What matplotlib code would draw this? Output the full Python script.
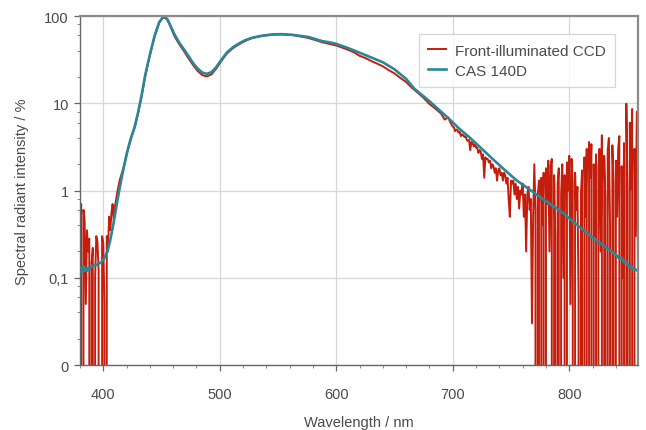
import numpy as np
import matplotlib.pyplot as plt
from matplotlib.ticker import FixedLocator, LogLocator, MultipleLocator, NullFormatter

plt.rcParams['font.family'] = ['Liberation Sans', 'DejaVu Sans']

# CAS 140D reference spectrum (wavelength nm, intensity %)
cas_nm = [380, 381, 382, 383, 384, 385, 386, 387, 388, 390, 392, 394, 396, 398,
          400, 402, 404, 406, 408, 410, 412, 414, 416, 418, 420, 422, 424, 427,
          430, 433, 436, 440, 444, 448, 451, 453, 455, 458, 461, 465, 469, 473,
          477, 481, 485, 489, 493, 497, 501, 506, 511, 516, 522, 528, 536, 545,
          553, 562, 570, 576, 582, 588, 594, 600, 610, 620, 630, 640, 650, 660,
          667, 675, 682, 690, 697, 705, 715, 725, 735, 745, 755, 765, 775, 785,
          795, 800, 810, 820, 830, 835, 840, 843, 845, 847, 849, 851, 853, 855,
          857, 859]
cas_val = [0.11, 0.13, 0.115, 0.135, 0.12, 0.13, 0.12, 0.13, 0.125, 0.135, 0.14,
           0.14, 0.145, 0.15, 0.16, 0.18, 0.21, 0.27, 0.37, 0.52, 0.75, 1.05,
           1.45, 1.95, 2.6, 3.3, 4.1, 5.4, 8.0, 12.5, 21, 36, 59, 85, 96, 97, 92,
           76, 62, 50, 42, 35, 29, 25, 22.5, 21.7, 22.8, 26, 31, 38, 43.5, 48, 53,
           56.5, 59.5, 61.5, 62, 61, 59, 57.5, 54.5, 51.5, 50, 48, 43, 38, 33.5,
           29.5, 24.5, 19, 14.7, 12, 10, 8, 6.6, 5.2, 4.0, 3.0, 2.25, 1.7, 1.3,
           1.05, 0.84, 0.68, 0.55, 0.48, 0.37, 0.29, 0.23, 0.205, 0.185, 0.165,
           0.17, 0.15, 0.152, 0.135, 0.138, 0.125, 0.124, 0.12]

# front-illuminated CCD: noisy blue end
ccd_nm_blue = list(range(380, 411)) + [412, 414, 416]
ccd_val_blue = [0.12, 0.7, 0, 0.6, 0.45, 0.05, 0.35, 0.2, 0.28, 0, 0.15, 0.22, 0,
                0.1, 0.3, 0.26, 0.12, 0, 0, 0.3, 0.25, 0.05, 0, 0.3, 0.2, 0.5,
                0.35, 0.55, 0.7, 0.45, 0.65, 0.95, 1.3, 1.6]

# smooth middle part
ccd_nm_mid = [418, 421, 424, 427, 430, 433, 436, 440, 444, 448, 451, 453, 455, 458,
              461, 465, 469, 473, 477, 481, 485, 489, 493, 497, 501, 506, 511, 516,
              522, 528, 536, 545, 553, 562, 570, 576, 582, 588, 594, 600, 605, 610,
              615, 620, 625, 630, 635, 640, 645, 650, 655, 660, 665, 670, 675, 680,
              685, 690, 693, 696, 698]
ccd_val_mid = [1.95, 2.9, 4.0, 5.3, 7.8, 12.3, 20.5, 35.5, 58, 84, 95, 96, 91, 74,
               59, 48, 40, 33, 27.5, 23.5, 21, 20.3, 21.5, 25, 30, 37, 42.5, 47,
               52, 56, 59, 61, 61.5, 60.5, 58, 56, 53, 50, 48, 46, 43.5, 41, 38.5,
               35, 33, 30.5, 28.5, 26.5, 24, 22, 19.5, 17.5, 15, 13.2, 11.5, 9.8,
               8.7, 7.6, 6.5, 6.9, 6.0]

# noisy red end, 1 nm steps
ccd_nm_red = list(range(700, 860))
ccd_val_red = [5.4, 5.3, 4.8, 5.0, 4.9, 4.6, 4.7, 4.2, 4.4, 4.3,
               4.1, 4.2, 3.8, 3.7, 3.8, 2.9, 3.6, 3.5, 3.2, 3.4,
               3.1, 3.1, 2.7, 2.9, 2.8, 2.3, 2.6, 1.4, 2.4, 2.3,
               2.3, 2.1, 2.2, 1.8, 2.0, 1.9, 1.6, 1.8, 1.3, 1.7,
               1.8, 1.5, 1.6, 1.3, 1.6, 1.5, 1.2, 1.4, 0.8, 0.5,
               1.3, 1.2, 1.3, 0.9, 1.2, 0.8, 1.1, 0.62, 1.0, 0.9,
               1.2, 0.5, 0.9, 0.2, 0.9, 1.1, 0.6, 0.8, 0.03, 0.5,
               2.0, 0.6, 0, 0.9, 1.3, 0, 1.4, 0.4, 1.6, 0,
               1.8, 0.7, 2.2, 0.2, 1.9, 2.3, 0, 1.5, 0.3, 0,
               1.2, 1.8, 0, 0.9, 2.0, 0.1, 1.5, 0, 2.1, 1.0,
               2.5, 0.05, 2.3, 1.2, 0, 1.6, 0.6, 1.1, 0.06, 0,
               0.9, 1.7, 0, 2.4, 0.5, 3.0, 0, 3.6, 1.4, 3.4,
               0, 2.0, 0.3, 2.6, 0, 1.8, 3.0, 0.2, 4.3, 0,
               2.5, 0.8, 0, 2.9, 4.0, 0.4, 0, 3.3, 1.2, 0,
               2.2, 0.5, 3.0, 4.2, 0, 1.9, 0.1, 3.5, 0, 9.9,
               1.0, 0, 6.0, 1.05, 8.6, 0, 3.0, 0.3, 8.0, 0.15]

ccd_nm = ccd_nm_blue + ccd_nm_mid + ccd_nm_red
ccd_val = ccd_val_blue + ccd_val_mid + ccd_val_red

ytick_vals = [0.01, 0.1, 1, 10, 100]
ytick_labels = ['0', '0,1', '1', '10', '100']
xtick_vals = [400, 500, 600, 700, 800]

red = '#c41d0c'
teal = '#2a8797'
txt = '#4a4a4a'

fig = plt.figure(figsize=(6.46, 4.31), dpi=100)
ax = fig.add_axes([0.1238, 0.1508, 0.8638, 0.8097])

ax.plot(ccd_nm, ccd_val, color=red, lw=1.4, label='Front-illuminated CCD')
ax.plot(cas_nm, cas_val, color=teal, lw=1.9, label='CAS 140D')

ax.set_yscale('log')
ax.set_xlim(380, 859)
ax.set_ylim(0.01, 100)

ax.yaxis.set_major_locator(FixedLocator(ytick_vals))
ax.set_yticklabels(ytick_labels)
ax.yaxis.set_minor_locator(LogLocator(base=10, subs=(2, 4, 6, 8)))
ax.yaxis.set_minor_formatter(NullFormatter())
ax.set_xticks(xtick_vals)
ax.xaxis.set_minor_locator(MultipleLocator(20))

ax.grid(True, which='major', color='#d6d6d6', lw=0.9)
ax.set_axisbelow(True)

for side in ['left', 'bottom']:
    ax.spines[side].set_color('#666666')
    ax.spines[side].set_linewidth(1.0)
for side in ['top', 'right']:
    ax.spines[side].set_color('#8a8a8a')
    ax.spines[side].set_linewidth(1.6)

ax.tick_params(which='major', direction='out', length=4, width=0.9, color='#666666',
               labelcolor=txt, labelsize=10.5)
ax.tick_params(which='minor', direction='out', length=2.5, width=0.7, color='#888888')
ax.tick_params(axis='x', which='major', pad=12)
ax.tick_params(axis='y', which='major', pad=4)

ax.set_xlabel('Wavelength / nm', fontsize=10.5, color=txt, labelpad=10)
ax.set_ylabel('Spectral radiant intensity / %', fontsize=10.5, color=txt, labelpad=11)

leg = ax.legend(loc='upper right', bbox_to_anchor=(0.973, 0.969), fontsize=11,
                fancybox=False, frameon=True, handlelength=1.2, borderpad=0.6,
                labelspacing=0.4, handletextpad=0.6)
leg.get_frame().set_edgecolor('#cccccc')
leg.get_frame().set_linewidth(0.9)
for t in leg.get_texts():
    t.set_color(txt)

fig.savefig('out.png', dpi=100)
